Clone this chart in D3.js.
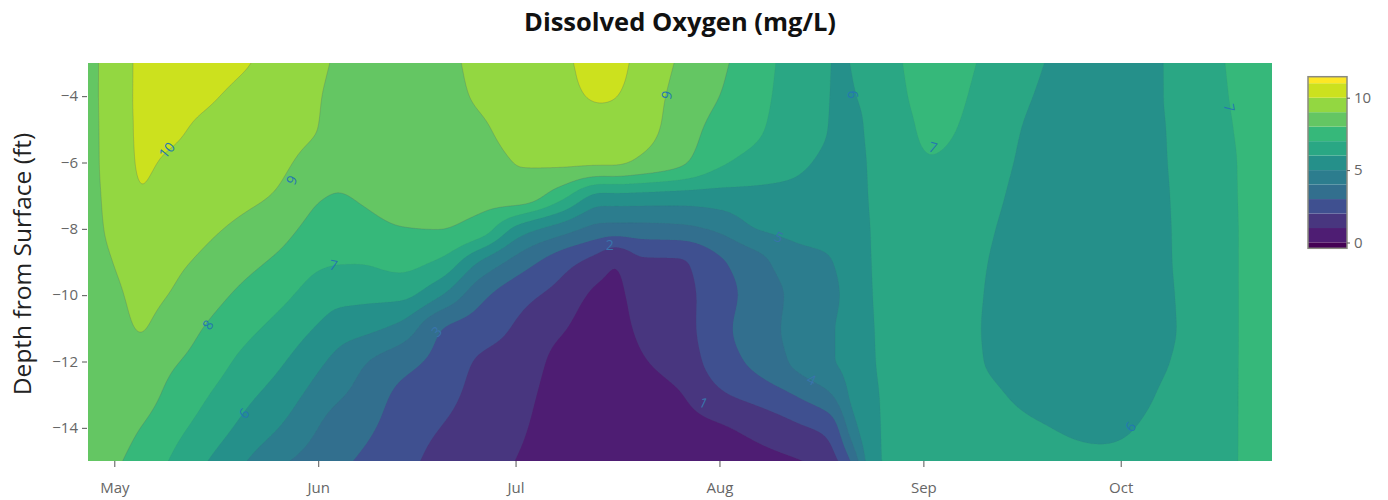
<!DOCTYPE html>
<html><head><meta charset="utf-8">
<script src="https://cdn.jsdelivr.net/npm/d3@7"></script>
<style>html,body{margin:0;background:#fff}svg{display:block}text{font-family:"Open Sans",sans-serif}</style>
</head><body><svg id="c" width="1388" height="500"></svg>
<script>
const titleText = "Dissolved Oxygen (mg/L)";
const yTitle = "Depth from Surface (ft)";
const depths = [-3,-4,-5,-6,-7,-8,-9,-10,-11,-12,-13,-14,-15];
const dates = ["2019-04-27 00","2019-05-01 00","2019-05-05 00","2019-05-09 12","2019-05-14 00","2019-05-20 00","2019-05-26 00","2019-06-01 00","2019-06-04 00","2019-06-07 12","2019-06-13 12","2019-06-19 12","2019-06-25 12","2019-07-01 12","2019-07-08 00","2019-07-14 00","2019-07-16 00","2019-07-20 00","2019-07-26 00","2019-08-01 00","2019-08-07 00","2019-08-13 00","2019-08-18 00","2019-08-19 12","2019-08-21 00","2019-08-24 00","2019-08-28 12","2019-09-02 00","2019-09-09 12","2019-09-19 00","2019-09-28 00","2019-10-08 12","2019-10-13 00","2019-10-19 00","2019-10-24 00"];
// dissolved oxygen, one list per date, from -3 ft to -15 ft
const oxygen = [
[8.7,8.7,8.7,8.7,8.65,8.6,8.5,8.4,8.3,8.3,8.3,8.3,8.3],
[9.45,9.45,9.42,9.4,9.35,9.25,9.03,8.8,8.65,8.55,8.4,8.3,8.12],
[10.18,10.17,10.12,10.08,9.97,9.75,9.5,9.25,9.05,8.75,8.4,8.0,7.65],
[10.55,10.4,10.15,9.9,9.65,9.42,9.2,8.97,8.55,8.15,7.75,7.35,6.95],
[10.5,10.2,9.85,9.6,9.4,9.2,8.9,8.5,8.05,7.7,7.2,6.75,6.2],
[10.15,9.8,9.55,9.35,9.2,8.85,8.35,7.85,7.35,6.85,6.35,5.85,5.2],
[9.6,9.5,9.3,9.15,8.92,8.37,7.82,7.27,6.7,6.15,5.6,5.0,4.2],
[9.15,9.05,9.0,8.65,8.1,7.65,7.15,6.55,5.9,5.2,4.6,4.0,3.55],
[8.9,8.8,8.7,8.4,7.95,7.5,7.05,6.3,5.5,4.7,4.15,3.5,3.2],
[8.7,8.65,8.6,8.45,8.1,7.7,7.05,6.25,5.3,4.15,3.7,3.25,2.9],
[8.65,8.6,8.55,8.45,8.3,7.97,7.3,6.25,4.7,3.4,2.8,2.55,2.35],
[8.8,8.75,8.65,8.5,8.35,8.02,6.85,5.1,3.05,2.7,2.35,2.0,1.7],
[9.2,9.1,8.85,8.55,8.3,7.6,4.95,3.3,2.5,1.9,1.7,1.55,1.4],
[9.55,9.5,9.4,9.05,8.6,5.6,3.55,2.35,1.85,1.6,1.35,1.15,0.95],
[9.85,9.75,9.55,9.15,7.35,4.5,2.4,1.65,1.1,0.7,0.55,0.45,0.4],
[10.35,10.1,9.55,9.15,5.7,3.65,1.5,0.75,0.5,0.45,0.4,0.35,0.35],
[10.4,10.05,9.55,9.15,5.75,3.6,1.05,0.7,0.55,0.45,0.4,0.35,0.3],
[9.6,9.45,9.3,8.85,5.7,3.65,1.85,1.5,1.2,0.9,0.6,0.4,0.3],
[8.9,8.75,8.6,8.2,5.6,3.75,1.9,1.7,1.6,1.4,0.95,0.65,0.4],
[8.2,8.0,7.6,7.15,5.6,4.2,2.85,2.6,2.7,2.5,1.85,0.9,0.55],
[7.35,7.25,7.1,6.65,5.7,5.05,3.7,3.45,3.55,3.3,2.4,1.3,0.7],
[6.55,6.5,6.35,6.15,5.7,5.25,4.7,4.3,4.35,4.25,3.1,1.85,0.95],
[6.0,5.98,5.95,5.75,5.45,5.25,4.98,4.9,4.97,4.97,3.95,2.4,1.6],
[5.85,5.8,5.65,5.5,5.45,5.3,5.1,5.0,5.05,5.05,4.5,3.3,2.2],
[6.03,5.9,5.6,5.5,5.45,5.4,5.35,5.3,5.35,5.35,5.2,4.5,3.0],
[6.35,6.3,6.25,6.15,6.1,6.03,6.0,5.97,5.93,5.9,5.8,5.7,5.6],
[6.93,6.8,6.6,6.55,6.5,6.45,6.4,6.4,6.4,6.4,6.4,6.4,6.4],
[7.7,7.5,7.25,6.95,6.8,6.75,6.7,6.7,6.7,6.7,6.7,6.7,6.7],
[6.95,6.8,6.65,6.5,6.35,6.2,6.1,6.05,6.02,6.05,6.25,6.4,6.5],
[6.03,5.9,5.75,5.65,5.55,5.5,5.45,5.4,5.4,5.45,5.7,6.05,6.3],
[5.5,5.45,5.4,5.35,5.3,5.25,5.2,5.15,5.15,5.2,5.4,5.8,6.2],
[6.08,6.08,6.05,6.03,6.0,5.98,5.97,5.93,5.9,6.0,6.2,6.35,6.4],
[6.6,6.55,6.5,6.45,6.45,6.42,6.4,6.4,6.4,6.45,6.55,6.6,6.65],
[7.2,7.15,7.08,7.03,7.02,7.01,7.01,7.01,7.01,7.01,7.01,7.01,7.01],
[7.6,7.55,7.5,7.45,7.4,7.4,7.4,7.4,7.4,7.4,7.4,7.4,7.4]
];
const levels = [0,1,2,3,4,5,6,7,8,9,10,11];
const bandColors = ["#4e1d73","#48367f","#3f5090","#326f8e","#2c7d8e","#25908a","#2aa784","#36b87a","#64c663","#93d741","#cce11e","#fde725"];
const belowColor = "#440154";
const monthTicks = ["2019-05-01","2019-06-01","2019-07-01","2019-08-01","2019-09-01","2019-10-01"];
const depthTicks = [-4,-6,-8,-10,-12,-14];
const barTicks = [0,5,10];
const labelValues = ["10","9","8","7","6","3","2","1","5","4","6","7","6","7","9"];
const labelDates = ["2019-05-09 00","2019-05-28 00","2019-05-15 06","2019-06-03 08","2019-05-20 18","2019-06-19 00","2019-07-15 08","2019-07-29 14","2019-08-10 00","2019-08-15 00","2019-08-21 06","2019-09-02 12","2019-10-02 12","2019-10-17 12","2019-07-24 00"];
const labelDepths = [-5.63,-6.53,-10.9,-9.1,-13.57,-11.1,-8.5,-13.25,-8.25,-12.55,-3.95,-5.55,-13.97,-4.35,-3.97];
const labelAngles = [-50,-62,-55,10,-45,-45,0,25,25,25,85,15,-50,80,-75];

const svg = d3.select("#c");
const M = {l:88,r:1272,t:63,b:461};
const parseH = d3.timeParse("%Y-%m-%d %H"), parseD = d3.timeParse("%Y-%m-%d");
const x = d3.scaleTime().domain([parseH("2019-04-27 00"),parseH("2019-10-24 00")]).range([M.l,M.r]);
const y = d3.scaleLinear().domain([-3,-15]).range([M.t,M.b]);

function mono(xs,ys){ // monotone cubic through the read values
  const n=xs.length,d=[],m=new Array(n);
  for(let i=0;i<n-1;i++)d[i]=(ys[i+1]-ys[i])/(xs[i+1]-xs[i]);
  m[0]=d[0];m[n-1]=d[n-2];
  for(let i=1;i<n-1;i++){
    if(d[i-1]*d[i]<=0)m[i]=0;
    else{const h0=xs[i]-xs[i-1],h1=xs[i+1]-xs[i],w1=2*h1+h0,w2=h1+2*h0;m[i]=(w1+w2)/(w1/d[i-1]+w2/d[i]);}
  }
  return t=>{
    if(t<=xs[0])return ys[0]+m[0]*(t-xs[0]); if(t>=xs[n-1])return ys[n-1]+m[n-1]*(t-xs[n-1]);
    let i=d3.bisectRight(xs,t)-1; const h=xs[i+1]-xs[i],s=(t-xs[i])/h;
    const a=(1+2*s)*(1-s)*(1-s),b=s*(1-s)*(1-s),c=s*s*(3-2*s),e=s*s*(s-1);
    return a*ys[i]+b*h*m[i]+c*ys[i+1]+e*h*m[i+1];
  };
}
const pad=20, W=M.r-M.l+2*pad, H=M.b-M.t+2*pad;
const xKnots=dates.map(d=>x(parseH(d))), yKnots=depths.map(d=>y(d));
const colFns=oxygen.map(col=>mono(yKnots,col));
const grid=new Float64Array(W*H);
for(let j=0;j<H;j++){
  const py=M.t-pad+j+0.5, f=mono(xKnots,colFns.map(g=>g(py)));
  for(let i=0;i<W;i++) grid[j*W+i]=f(M.l-pad+i+0.5);
}
d3.blur2({data:grid,width:W,height:H},4,3);
const contours=d3.contours().size([W,H]).thresholds(levels)(Array.from(grid));
const path=d3.geoPath(d3.geoIdentity().translate([M.l-pad,M.t-pad]));
svg.append("defs").append("clipPath").attr("id","pc").append("rect")
  .attr("x",M.l).attr("y",M.t).attr("width",M.r-M.l).attr("height",M.b-M.t);
const plot=svg.append("g").attr("clip-path","url(#pc)");
plot.append("rect").attr("x",M.l).attr("y",M.t).attr("width",M.r-M.l).attr("height",M.b-M.t).attr("fill",belowColor);
plot.selectAll("path.band").data(contours).join("path").attr("class","band")
  .attr("d",path).attr("fill",d=>bandColors[levels.indexOf(d.value)])
  .attr("stroke",d=>d.value>=8?"rgba(90,105,100,0.32)":"rgba(90,105,100,0.08)").attr("stroke-width",0.9);
plot.selectAll("text.cl").data(labelValues).join("text").attr("class","cl")
  .attr("transform",(d,i)=>`translate(${x(parseH(labelDates[i]))},${y(labelDepths[i])}) rotate(${labelAngles[i]})`)
  .attr("text-anchor","middle").attr("dy","0.35em").attr("font-size",14)
  .attr("fill",d=>+d<6?"#3a74ac":"#2478b0").text(d=>d);

const axX=svg.append("g").attr("transform",`translate(0,${M.b})`)
  .call(d3.axisBottom(x).tickValues(monthTicks.map(parseD)).tickFormat(d3.timeFormat("%b")).tickSize(6).tickPadding(15));
const axY=svg.append("g").attr("transform",`translate(${M.l-1},0)`)
  .call(d3.axisLeft(y).tickValues(depthTicks).tickSize(5).tickPadding(4));
// colorbar
const barY=d3.scaleLinear().domain([0,10]).range([242.5,97.7]);
const barTop=11.45, barBottom=-0.4;
const barEdges=levels.map((l,i)=>[l,i<levels.length-1?levels[i+1]:barTop]);
svg.selectAll("rect.cb").data(barEdges).join("rect").attr("class","cb")
  .attr("x",1308).attr("width",39).attr("y",d=>barY(d[1])).attr("height",d=>barY(d[0])-barY(d[1]))
  .attr("fill",(d,i)=>bandColors[i]);
svg.append("rect").attr("x",1308).attr("width",39).attr("y",barY(0)).attr("height",barY(barBottom)-barY(0)).attr("fill",belowColor);
svg.append("rect").attr("x",1308).attr("width",39).attr("y",barY(barTop)).attr("height",barY(barBottom)-barY(barTop))
  .attr("fill","none").attr("stroke","#8a8a80").attr("stroke-width",1.5);
const axB=svg.append("g").attr("transform","translate(1347,0)")
  .call(d3.axisRight(barY).tickValues(barTicks).tickFormat(d3.format("d")).tickSize(3).tickPadding(4));
[axX,axY,axB].forEach(a=>{
  a.select(".domain").remove();
  a.selectAll("line").attr("stroke","#555");
  a.selectAll("text").attr("font-size",15).attr("fill","#666");
});
axX.selectAll("text").attr("dy","0.71em");
svg.append("text").attr("x",680).attr("y",31).attr("text-anchor","middle").attr("font-size",25.5).attr("font-weight",700).attr("fill","#111").text(titleText);
svg.append("text").attr("transform","translate(31,264) rotate(-90)").attr("text-anchor","middle").attr("font-size",24.5).attr("fill","#222").text(yTitle);
</script></body></html>
